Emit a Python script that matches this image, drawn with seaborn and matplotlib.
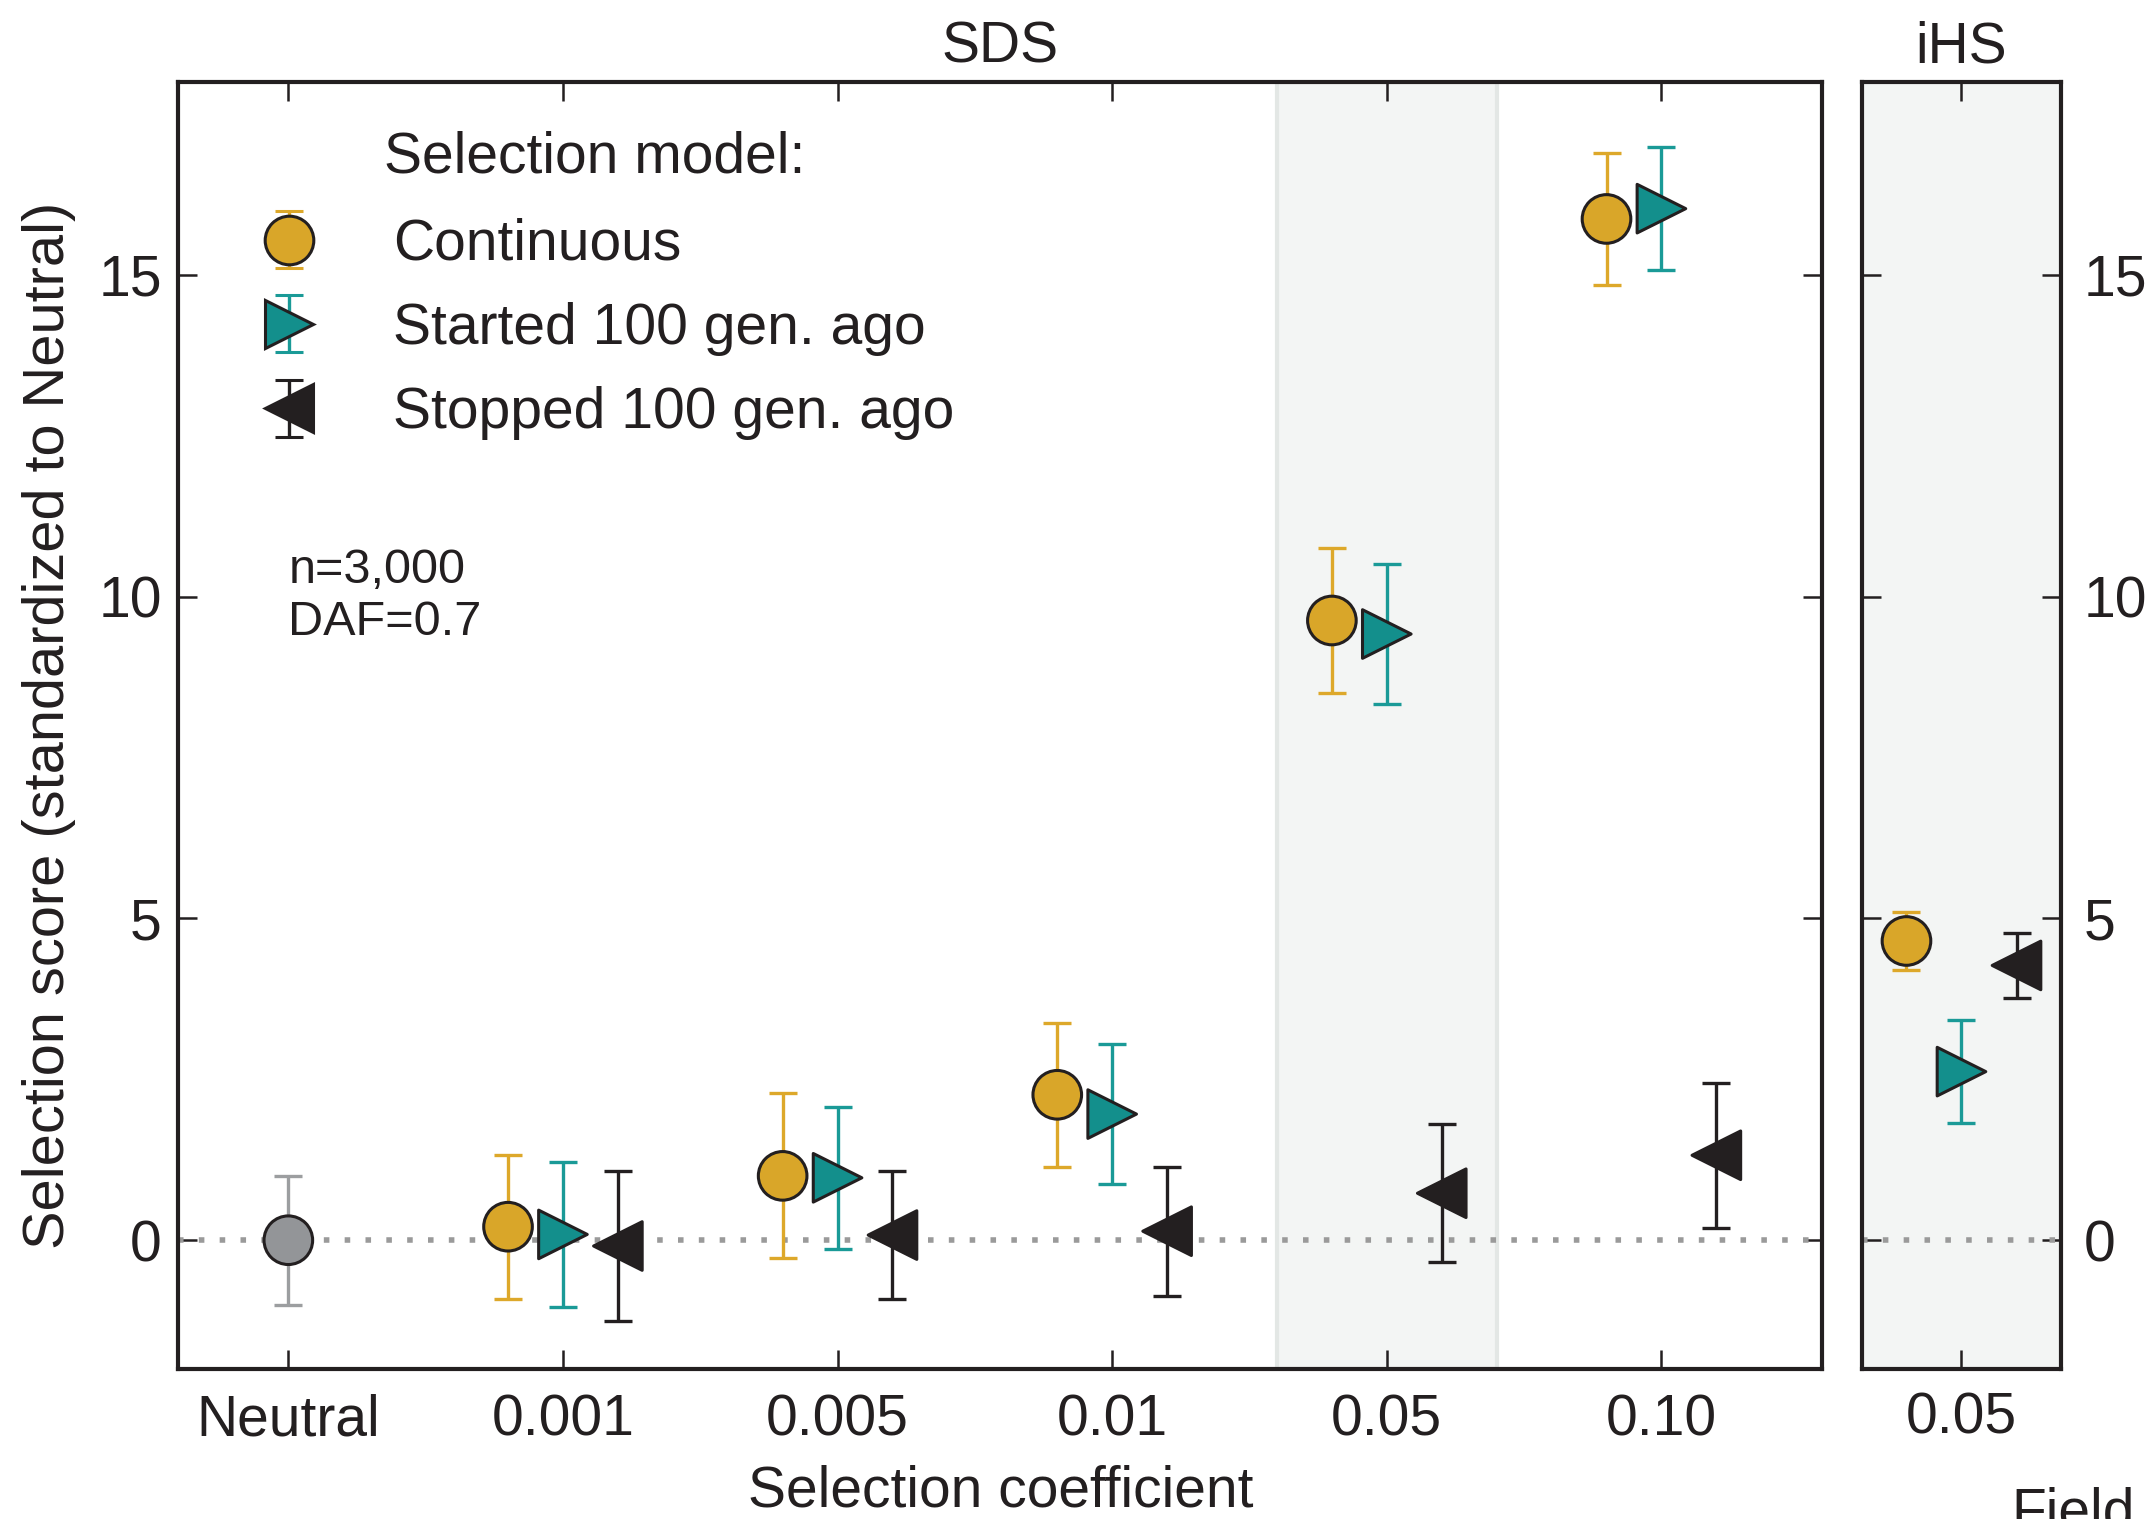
import matplotlib
matplotlib.use("Agg")
import numpy as np
import pandas as pd
import matplotlib.pyplot as plt
import seaborn as sns

# ---------------- data ----------------
categories = ["Neutral", "0.001", "0.005", "0.01", "0.05", "0.10"]
ihs_categories = ["0.05"]
models = ["Continuous", "Started 100 gen. ago", "Stopped 100 gen. ago"]

neutral_mean = [0.0]
neutral_err = [1.0]

sds_cont_mean = [0.21, 1.00, 2.26, 9.63, 15.87]
sds_cont_err = [1.12, 1.28, 1.12, 1.12, 1.03]
sds_start_mean = [0.09, 0.97, 1.96, 9.42, 16.03]
sds_start_err = [1.13, 1.10, 1.09, 1.09, 0.96]
sds_stop_mean = [-0.09, 0.08, 0.14, 0.73, 1.32]
sds_stop_err = [1.16, 1.00, 1.00, 1.07, 1.13]

ihs_cont_mean = [4.65]
ihs_cont_err = [0.45]
ihs_start_mean = [2.62]
ihs_start_err = [0.80]
ihs_stop_mean = [4.27]
ihs_stop_err = [0.50]

# ---------------- style ----------------
sns.set_theme(style="ticks")
FONT = ["Liberation Sans", "DejaVu Sans"]
plt.rcParams["font.family"] = FONT
DARK = "#231F20"
colors = {"Neutral": "#939598", "Continuous": "#D9A629",
          "Started 100 gen. ago": "#138F8C", "Stopped 100 gen. ago": DARK}
ecolors = {"Neutral": "#9C9EA0", "Continuous": "#DDA82A",
           "Started 100 gen. ago": "#1A9A97", "Stopped 100 gen. ago": DARK}
markers = {"Neutral": "o", "Continuous": "o",
           "Started 100 gen. ago": ">", "Stopped 100 gen. ago": "<"}
offsets = {"Neutral": 0.0, "Continuous": -0.2,
           "Started 100 gen. ago": 0.0, "Stopped 100 gen. ago": 0.2}
FS = 20.5
MS = 17.5

# ---------------- tables ----------------
rows = [("Neutral", 0, neutral_mean[0], neutral_err[0])]
for m, means, errs in zip(models,
                          [sds_cont_mean, sds_start_mean, sds_stop_mean],
                          [sds_cont_err, sds_start_err, sds_stop_err]):
    for i, (v, e) in enumerate(zip(means, errs)):
        rows.append((m, i + 1, v, e))
sds = pd.DataFrame(rows, columns=["model", "cat", "score", "err"])
sds["x"] = sds["cat"] + sds["model"].map(offsets)

rows = []
for m, means, errs in zip(models,
                          [ihs_cont_mean, ihs_start_mean, ihs_stop_mean],
                          [ihs_cont_err, ihs_start_err, ihs_stop_err]):
    for i, (v, e) in enumerate(zip(means, errs)):
        rows.append((m, i, v, e))
ihs = pd.DataFrame(rows, columns=["model", "cat", "score", "err"])
ihs["x"] = ihs["cat"] + ihs["model"].map(offsets)

# ---------------- figure ----------------
fig = plt.figure(figsize=(10.765, 7.595), dpi=200)
ax = fig.add_axes([0.0829, 0.0988, 0.7634, 0.8473])
ax2 = fig.add_axes([0.8648, 0.0988, 0.0925, 0.8473])

ax.axvspan(3.6, 4.4, facecolor="#F3F5F4", edgecolor="#E3E7E5", lw=1.5, zorder=0)
ax2.set_facecolor("#F3F5F4")

for a in (ax, ax2):
    a.axhline(0, color="#9A9A9A", lw=2.0, linestyle=(0, (1, 2.75)), zorder=1)


def draw(a, df):
    for m, g in df.groupby("model", sort=False):
        a.errorbar(g["x"], g["score"], yerr=g["err"], fmt="none",
                   ecolor=ecolors[m], elinewidth=1.2, capsize=4.9,
                   capthick=1.2, zorder=2)
    sns.scatterplot(data=df, x="x", y="score", hue="model", style="model",
                    palette=colors, markers=markers, s=MS ** 2,
                    edgecolor=DARK, linewidth=1.1, legend=False, zorder=3,
                    ax=a)


draw(ax, sds)
draw(ax2, ihs)

# axes limits / ticks
ax.set_xlim(-0.4, 5.585)
ax2.set_xlim(-0.362, 0.362)
for a in (ax, ax2):
    a.set_ylim(-2, 18)
    a.set_yticks([0, 5, 10, 15])
    a.set_yticklabels(["0", "5", "10", "15"])
    for s in a.spines.values():
        s.set_visible(True)
        s.set_linewidth(1.5)
        s.set_color(DARK)
    a.tick_params(axis="both", direction="in", length=7, width=0.9,
                  color=DARK, labelcolor=DARK, labelsize=FS,
                  top=True, right=True, bottom=True, left=True)
    a.tick_params(axis="x", pad=9)
    a.tick_params(axis="y", pad=6)
    a.set_xlabel("")
    a.set_ylabel("")

ax.set_xticks(range(len(categories)))
ax.set_xticklabels(categories)
ax.tick_params(labelright=False)
ax2.set_xticks(range(len(ihs_categories)))
ax2.set_xticklabels(ihs_categories)
ax2.tick_params(labelleft=False, labelright=True, pad=8)

ax.set_xlabel("Selection coefficient", fontsize=FS, color=DARK, labelpad=6)
ax.set_ylabel("Selection score (standardized to Neutral)", fontsize=20.8,
              color=DARK, labelpad=8)
ax.set_title("SDS", fontsize=FS, color=DARK, pad=7)
ax2.set_title("iHS", fontsize=FS, color=DARK, pad=7)

# legend
handles = []
for m in models:
    h = ax.errorbar([np.nan], [np.nan], yerr=[np.nan], fmt=markers[m],
                    mfc=colors[m], mec=DARK, mew=1.1, ms=MS,
                    ecolor=ecolors[m], elinewidth=1.2, capsize=4.9,
                    capthick=1.2, label=m)
    handles.append(h)
leg = ax.legend(handles=handles, labels=models, loc="upper left",
                bbox_to_anchor=(0.0464, 0.8945), frameon=False, fontsize=FS,
                handlelength=1.2, handletextpad=1.23, labelspacing=0.53,
                borderpad=0, borderaxespad=0)
for t in leg.get_texts():
    t.set_color(DARK)
ax.text(0.1253, 0.941, "Selection model:", transform=ax.transAxes,
        fontsize=FS, color=DARK, va="center", ha="left")

ax.text(0.0668, 0.6377, "n=3,000\nDAF=0.7", transform=ax.transAxes,
        fontsize=17.5, color=DARK, va="top", ha="left", linespacing=1.2)

fig.text(2011 / 2153, -0.006, "Field", fontsize=FS, color=DARK,
         ha="left", va="baseline")

fig.savefig("out.png", dpi=200)
